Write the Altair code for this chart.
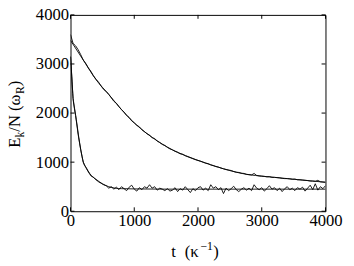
import altair as alt
import pandas as pd

# time grid of the noisy traces (t in units of 1/kappa)
t_noisy = list(range(0, 4001, 40))

slow_noisy = [
    3600, 3420, 3370, 3290, 3190, 3080, 3010, 2920, 2850, 2760,
    2690, 2630, 2550, 2480, 2440, 2380, 2310, 2240, 2200, 2130,
    2070, 2020, 1950, 1910, 1840, 1800, 1750, 1720, 1660, 1620,
    1580, 1550, 1500, 1480, 1430, 1400, 1360, 1340, 1300, 1270,
    1250, 1220, 1200, 1170, 1160, 1130, 1110, 1090, 1070, 1050,
    1035, 1020, 1000, 980, 970, 945, 930, 910, 900, 880,
    865, 850, 840, 830, 810, 795, 790, 775, 770, 750,
    745, 740, 770, 730, 720, 715, 710, 700, 705, 690,
    690, 685, 680, 670, 665, 665, 660, 650, 655, 640,
    640, 635, 630, 625, 615, 615, 610, 630, 600, 595,
    590,
]

fast_noisy = [
    3150, 2300, 1950, 1560, 1250, 1000, 890, 800, 720, 690,
    640, 600, 570, 540, 520, 470, 500, 450, 490, 440,
    500, 460, 420, 490, 530, 450, 410, 480, 440, 500,
    470, 540, 470, 500, 430, 470, 450, 420, 460, 410,
    430, 480, 400, 460, 430, 500, 440, 380, 460, 420,
    480, 500, 430, 470, 420, 540, 470, 500, 440, 480,
    360, 470, 420, 460, 510, 440, 400, 450, 480, 430,
    470, 420, 540, 470, 440, 480, 410, 460, 520, 450,
    480, 420, 470, 400, 460, 500, 440, 470, 420, 480,
    450, 490, 410, 470, 530, 440, 560, 430, 500, 460,
    520,
]

slow_fit_t = [0, 200, 400, 600, 800, 1000, 1200, 1400, 1600, 1800, 2000,
              2200, 2400, 2600, 2800, 3000, 3200, 3400, 3600, 3800, 4000]
slow_fit = [3480, 3080, 2680, 2380, 2070, 1800, 1580, 1400, 1250, 1135, 1035,
            945, 865, 795, 745, 715, 690, 665, 640, 615, 590]

fast_fit_t = [0, 20, 40, 60, 80, 100, 130, 160, 200, 250, 300, 350, 400,
              500, 600, 700, 800, 1000, 1500, 2000, 2500, 3000, 3500, 4000]
fast_fit = [3150, 2750, 2300, 2100, 1950, 1780, 1500, 1260, 1000, 880, 770, 700, 650,
            560, 500, 470, 460, 455, 450, 450, 450, 450, 450, 450]

x_ticks = [0, 1000, 2000, 3000, 4000]
y_ticks = [0, 1000, 2000, 3000, 4000]

assert len(slow_noisy) == len(t_noisy) and len(fast_noisy) == len(t_noisy)

rows = []
for t, v in zip(t_noisy, slow_noisy):
    rows.append({"t": t, "E": v, "s": "slow_noisy"})
for t, v in zip(t_noisy, fast_noisy):
    rows.append({"t": t, "E": v, "s": "fast_noisy"})
for t, v in zip(slow_fit_t, slow_fit):
    rows.append({"t": t, "E": v, "s": "slow_fit"})
for t, v in zip(fast_fit_t, fast_fit):
    rows.append({"t": t, "E": v, "s": "fast_fit"})
df = pd.DataFrame(rows)

W, H = 261, 201
FONT = "Liberation Serif, Times New Roman, serif"

xs = alt.Scale(domain=[0, 4000], nice=False, zero=False)
ys = alt.Scale(domain=[0, 4000], nice=False, zero=False)

xaxis = alt.Axis(values=x_ticks, format="d", ticks=False, domain=False, grid=False, title=None,
                 labelFont=FONT, labelFontSize=17, labelColor="black", labelPadding=2,
                 labelFlush=False, labelOverlap=False)
yaxis = alt.Axis(values=y_ticks, format="d", ticks=False, domain=False, grid=False, title=None,
                 labelFont=FONT, labelFontSize=17, labelColor="black", labelPadding=2,
                 labelFlush=False, labelOverlap=False)

noisy = alt.Chart(df[df.s.str.endswith("noisy")]).mark_line(
    color="black", strokeWidth=0.9, clip=True
).encode(
    x=alt.X("t:Q", scale=xs, axis=xaxis),
    y=alt.Y("E:Q", scale=ys, axis=yaxis),
    detail="s:N",
    order="t:Q",
)

fit = alt.Chart(df[df.s.str.endswith("fit")]).mark_line(
    color="black", strokeWidth=0.9, interpolate="monotone", clip=True
).encode(
    x=alt.X("t:Q", scale=xs),
    y=alt.Y("E:Q", scale=ys),
    detail="s:N",
    order="t:Q",
)

xt = pd.DataFrame({"v": x_ticks})
yt = pd.DataFrame({"v": y_ticks})
tick_len = 4
bottom_ticks = alt.Chart(xt).mark_rule(color="black", strokeWidth=1).encode(
    x=alt.X("v:Q", scale=xs), y=alt.value(H), y2=alt.value(H - tick_len))
top_ticks = alt.Chart(xt).mark_rule(color="black", strokeWidth=1).encode(
    x=alt.X("v:Q", scale=xs), y=alt.value(0), y2=alt.value(tick_len))
left_ticks = alt.Chart(yt).mark_rule(color="black", strokeWidth=1).encode(
    y=alt.Y("v:Q", scale=ys), x=alt.value(0), x2=alt.value(tick_len))
right_ticks = alt.Chart(yt).mark_rule(color="black", strokeWidth=1).encode(
    y=alt.Y("v:Q", scale=ys), x=alt.value(W), x2=alt.value(W - tick_len))

one = pd.DataFrame({"a": [0]})


def txt(s, x, y, size, angle=0):
    return alt.Chart(one).mark_text(
        text=s, font=FONT, fontSize=size, color="black", align="left",
        baseline="alphabetic", angle=angle
    ).encode(x=alt.value(x), y=alt.value(y))


# y-axis title: E_k/N (omega_R), rotated
ybase = -52
y_title = [
    txt("E", ybase, 136, 17, 270),
    txt("k", ybase + 4, 125.6, 12, 270),
    txt("/N (ω", ybase, 119.6, 17, 270),
    txt("R", ybase + 4, 81, 12, 270),
    txt(")", ybase, 73, 17, 270),
]
# x-axis title: t (kappa^-1)
xb = 248
x_title = [
    txt("t", 103, xb, 17),
    txt("(κ", 117, xb, 17),
    txt("−1", 133, xb - 7, 12),
    txt(")", 146, xb, 17),
]

chart = alt.layer(
    noisy, fit, bottom_ticks, top_ticks, left_ticks, right_ticks, *y_title, *x_title
).properties(
    width=W, height=H,
    autosize=alt.AutoSizeParams(type="none"),
    padding={"left": 64, "top": 4, "right": 21, "bottom": 53},
    background="white",
).configure_view(stroke="black", strokeWidth=1)

chart.save("out.html", embed_options={"renderer": "svg", "actions": False})
